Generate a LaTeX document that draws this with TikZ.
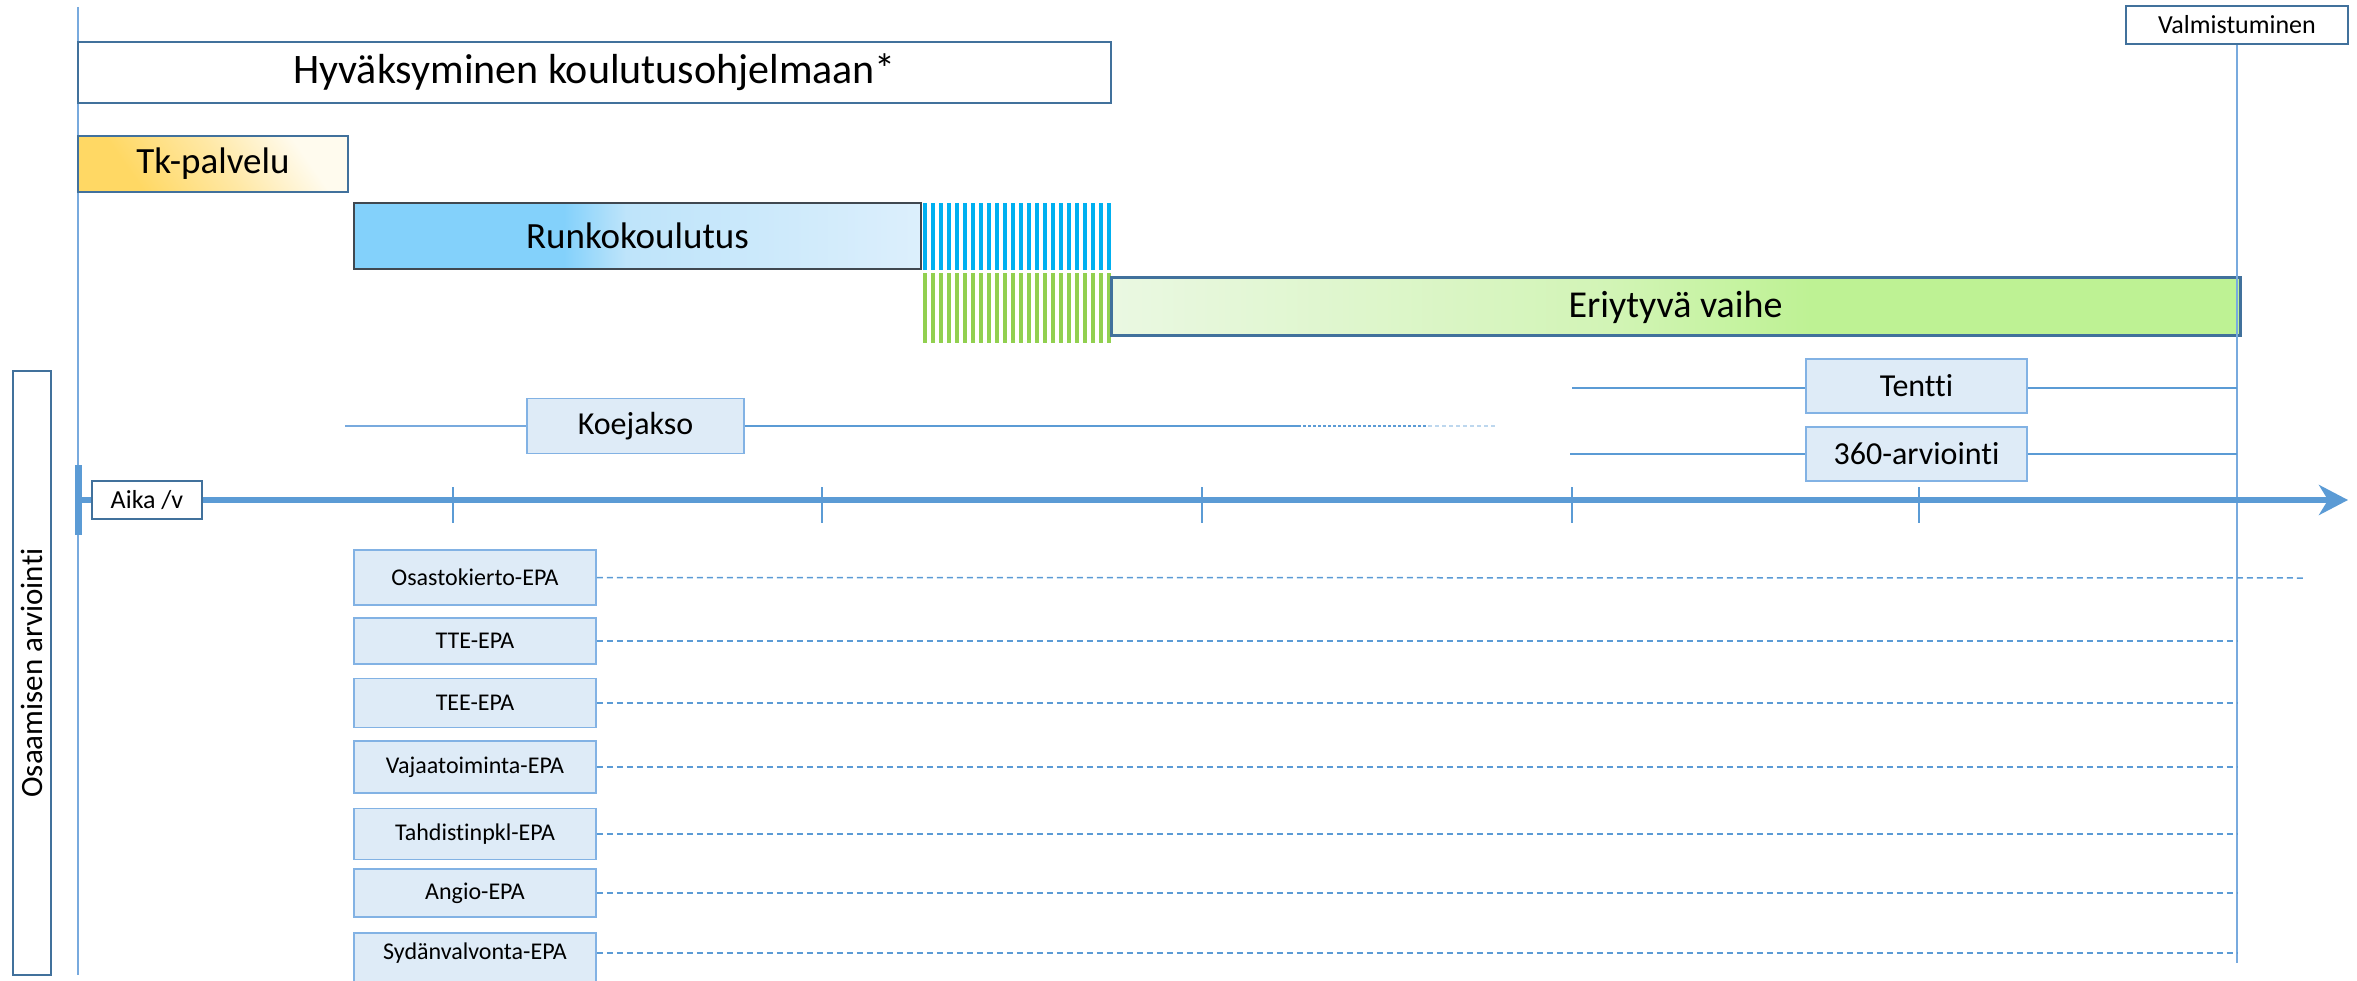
\documentclass[tikz,border=0pt]{standalone}
\usepackage{fontspec}
\setmainfont{Carlito}[Ligatures=NoCommon]
\usetikzlibrary{arrows.meta}
\definecolor{dblue}{RGB}{65,113,156}
\definecolor{mblue}{RGB}{91,155,213}
\definecolor{lineblue}{RGB}{120,170,222}
\definecolor{lblue}{RGB}{130,178,228}
\definecolor{boxfill}{RGB}{222,235,247}
\definecolor{stripeblue}{RGB}{0,176,240}
\definecolor{stripegreen}{RGB}{146,208,80}
\definecolor{rborder}{RGB}{64,72,80}
\definecolor{rk1}{RGB}{131,209,251}
\definecolor{rk2}{RGB}{190,228,250}
\definecolor{rk3}{RGB}{220,239,252}
\definecolor{er1}{RGB}{234,248,226}
\definecolor{er2}{RGB}{210,244,182}
\definecolor{er3}{RGB}{190,242,148}
\definecolor{tk1}{RGB}{255,216,100}
\definecolor{tk2}{RGB}{255,232,165}
\definecolor{tk3}{RGB}{255,251,238}
\pgfdeclarehorizontalshading{runkoshade}{100bp}{color(0bp)=(rk1); color(25bp)=(rk1); color(43.5bp)=(rk1); color(49bp)=(rk2); color(75bp)=(rk3); color(100bp)=(rk3)}
\pgfdeclarehorizontalshading{erishade}{100bp}{color(0bp)=(er1); color(25bp)=(er1); color(47bp)=(er2); color(56bp)=(er3); color(75bp)=(er3); color(100bp)=(er3)}
\pgfdeclarehorizontalshading{tkshade}{100bp}{color(0bp)=(tk1); color(30bp)=(tk1); color(52bp)=(tk2); color(72bp)=(tk3); color(100bp)=(tk3)}
\tikzset{
  darkbox/.style={draw=dblue, line width=2.5, inner sep=0, fill=white},
  lightbox/.style={draw=lblue, line width=1.5, fill=boxfill, inner sep=0},
  epabox/.style={lightbox, minimum width=242, font=\fontsize{24}{28}\selectfont},
  midfont/.style={font=\fontsize{32}{38}\selectfont},
  phasefont/.style={font=\fontsize{37}{44}\selectfont},
  axisline/.style={draw=mblue, line width=6},
  thinline/.style={draw=lineblue, line width=1.5},
  conn/.style={draw=mblue, line width=2},
  epaline/.style={draw=mblue, line width=1.5, dash pattern=on 6pt off 4pt},
  tick/.style={draw=mblue, line width=1.5},
}
\begin{document}
\begin{tikzpicture}[x=1pt, y=-1pt]
\useasboundingbox (0,0) rectangle (2357,981);
% frame lines
\draw[thinline] (78,7) coordinate (ltop) -- (78,975) coordinate (lbot);

% top boxes
\node[darkbox, minimum width=1033, minimum height=61, font=\fontsize{42}{50}\selectfont] (hyv) at (594.5,72.5) {Hyväksyminen koulutusohjelmaan*};
\node[draw=dblue, line width=2.5, inner sep=0, shading=tkshade, shading angle=35, minimum width=270, minimum height=56, phasefont] (tk) at (213,164) {Tk-palvelu};
\node[draw=rborder, line width=2, inner sep=0, shading=runkoshade, minimum width=567, minimum height=66, phasefont] (runko) at (637.5,236) {Runkokoulutus};
% stripes
\foreach \i in {0,...,23} {
  \fill[stripeblue] (923+8*\i,203) rectangle ++(4,67);
  \fill[stripegreen] (923+8*\i,273) rectangle ++(4,70);
}
\node[draw=dblue, line width=3, inner sep=0, shading=erishade, minimum width=1129, minimum height=58, font=\fontsize{38}{44}\selectfont] (eri) at (1675.5,307) {Eriytyvä vaihe};

% graduation
\node[darkbox, minimum width=222, minimum height=38, font=\fontsize{26}{30}\selectfont] (valm) at (2237,25) {Valmistuminen};
\coordinate (vend) at (2237,963);
\draw[thinline] (valm.south) -- (vend);

% Koejakso
\node[lightbox, minimum width=217, minimum height=55, midfont] (koe) at (635.5,426) {Koejakso};
\coordinate (koeL) at (345,426);
\coordinate (koeR1) at (1298,426);
\coordinate (koeR2) at (1428,426);
\coordinate (koeR3) at (1497,426);
\draw[thinline, line width=2] (koeL) -- (koe.west);
\draw[conn] (koe.east) -- (koeR1);
\draw[conn, dash pattern=on 3pt off 2pt] (koeR1) -- (koeR2);
\draw[draw=mblue!40, line width=2, dash pattern=on 4pt off 3pt] (koeR2) -- (koeR3);

% Tentti, 360
\node[lightbox, minimum width=221, minimum height=54, midfont] (tentti) at (1916.5,386) {Tentti};
\node[lightbox, minimum width=221, minimum height=54, midfont] (arv) at (1916.5,454) {360-arviointi};
\coordinate (tL) at (1572,388);
\coordinate (tR) at (2237,388);
\coordinate (aL) at (1570,454);
\coordinate (aR) at (2237,454);
\draw[conn] (tL) -- (tL -| tentti.west);
\draw[conn] (tR -| tentti.east) -- (tR);
\draw[conn] (aL) -- (arv.west);
\draw[conn] (arv.east) -- (aR);

% axis
\node[darkbox, line width=2, minimum width=110, minimum height=38, font=\fontsize{26}{30}\selectfont] (aika) at (147,500) {Aika /v};
\coordinate (bart) at (78,465);
\coordinate (barb) at (78,535);
\coordinate (axs) at (78,500);
\coordinate (tip) at (2348,500);
\draw[draw=mblue, line width=7] (bart) -- (barb);
\draw[axisline] (axs) -- (aika.west);
\draw[axisline, -{Stealth[length=29pt, width=30pt, inset=9pt]}] (aika.east) -- (tip);
\foreach \tx in {453,822,1202,1572,1919} {
  \draw[tick] (\tx,487) -- (\tx,523);
}

% left label
\node[draw=dblue, line width=2.5, inner sep=0, rotate=90, minimum width=604, minimum height=38, font=\fontsize{31}{36}\selectfont] (osa) at (32,673) {Osaamisen arviointi};

% EPA boxes
\node[epabox, minimum height=55] (e1) at (475,577.5) {Osastokierto-EPA};
\node[epabox, minimum height=46] (e2) at (475,641) {TTE-EPA};
\node[epabox, minimum height=49] (e3) at (475,703) {TEE-EPA};
\node[epabox, minimum height=52] (e4) at (475,767) {Vajaatoiminta-EPA};
\node[epabox, minimum height=51] (e5) at (475,834) {Tahdistinpkl-EPA};
\node[epabox, minimum height=48] (e6) at (475,893) {Angio-EPA};
\node[epabox, minimum height=60, anchor=north] (e7) at (475,932) {};
\node[font=\fontsize{24}{28}\selectfont] (e7t) at (475,953) {Sydänvalvonta-EPA};
\coordinate (e1end) at (2306,578);
\draw[epaline] (e1.east) -- (e1end);
\draw[epaline] (e2.east) -- (e2.east -| vend);
\draw[epaline] (e3.east) -- (e3.east -| vend);
\draw[epaline] (e4.east) -- (e4.east -| vend);
\draw[epaline] (e5.east) -- (e5.east -| vend);
\draw[epaline] (e6.east) -- (e6.east -| vend);
\coordinate (e7l) at (e7.north east |- e7t);
\draw[epaline] (e7l) -- (e7l -| vend);
\end{tikzpicture}
\end{document}
